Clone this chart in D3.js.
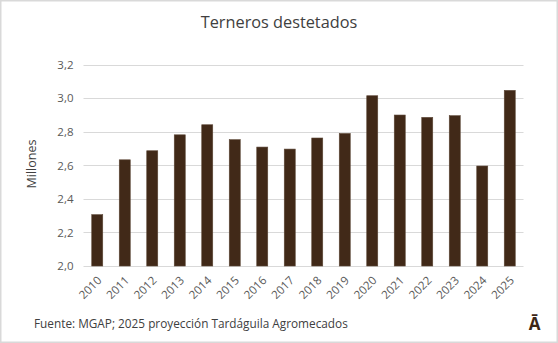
<!DOCTYPE html>
<html><head><meta charset="utf-8">
<script src="https://cdn.jsdelivr.net/npm/d3@7/dist/d3.min.js"></script>
<style>
html,body{margin:0;padding:0;background:#fff;}
text{font-family:"Open Sans",sans-serif;}
</style></head>
<body>
<svg id="c" width="558" height="343"></svg>
<script>
const years = ["2010","2011","2012","2013","2014","2015","2016","2017","2018","2019","2020","2021","2022","2023","2024","2025"];
const terneros = [2.306,2.633,2.687,2.782,2.842,2.753,2.709,2.697,2.763,2.790,3.015,2.900,2.886,2.896,2.596,3.047];
const yTicks = [2.0,2.2,2.4,2.6,2.8,3.0,3.2];
const title = "Terneros destetados";
const yTitle = "Millones";
const source = "Fuente: MGAP; 2025 proyección Tardáguila Agromecados";

const svg = d3.select("#c");
const m = {left:83.5, right:523.5, top:64.7, bottom:266};
svg.append("rect").attr("x",0.75).attr("y",0.75).attr("width",556.5).attr("height",341.5)
  .attr("fill","#fff").attr("stroke","#d9d9d9").attr("stroke-width",1.5);

const x = d3.scaleBand().domain(years).range([m.left,m.right]).paddingInner(0.6).paddingOuter(0.3);
const y = d3.scaleLinear().domain([2.0,3.2]).range([m.bottom,m.top]);

const grid = svg.append("g");
grid.selectAll("line").data(yTicks).join("line")
  .attr("x1",m.left).attr("x2",m.right)
  .attr("y1",d=>Math.round(y(d))+0.5).attr("y2",d=>Math.round(y(d))+0.5)
  .attr("stroke","#d9d9d9").attr("stroke-width",1);

const yAxis = d3.axisLeft(y).tickValues(yTicks).tickSize(0).tickPadding(10)
  .tickFormat(d=>d3.format(".1f")(d).replace(".",","));
const ga = svg.append("g").attr("transform",`translate(${m.left},0)`).call(yAxis);
ga.select(".domain").remove();
ga.selectAll("text").attr("fill","#595959").style("font-size","11.5px");

svg.append("g").selectAll("rect").data(years).join("rect")
  .attr("x",(d)=>x(d)).attr("width",x.bandwidth())
  .attr("y",(d,i)=>y(terneros[i])).attr("height",(d,i)=>y(2.0)-y(terneros[i]))
  .attr("fill","#412918").attr("stroke","#5c4636").attr("stroke-width",0.6);

const xAxis = d3.axisBottom(x).tickSize(0).tickPadding(0);
const gx = svg.append("g").attr("transform",`translate(0,${m.bottom})`).call(xAxis);
gx.select(".domain").remove();
gx.selectAll("text")
  .attr("fill","#595959").style("font-size","11.5px")
  .attr("text-anchor","end").attr("dy",null).attr("y",null)
  .attr("transform","translate(3,13) rotate(-45)")
  .attr("dominant-baseline","middle");

svg.append("text").attr("x",279).attr("y",28).attr("text-anchor","middle")
  .attr("fill","#404040").style("font-size","16.3px").text(title);

svg.append("text").attr("transform","translate(36,164) rotate(-90)").attr("text-anchor","middle")
  .attr("fill","#404040").style("font-size","12.5px").text(yTitle);

svg.append("text").attr("x",34).attr("y",328).attr("fill","#404040")
  .style("font-size","11.8px").text(source);

svg.append("text").attr("x",534.5).attr("y",330).attr("text-anchor","middle")
  .attr("fill","#3d2616").style("font-size","17px").style("font-weight","bold").text("Ā");
</script>
</body></html>
